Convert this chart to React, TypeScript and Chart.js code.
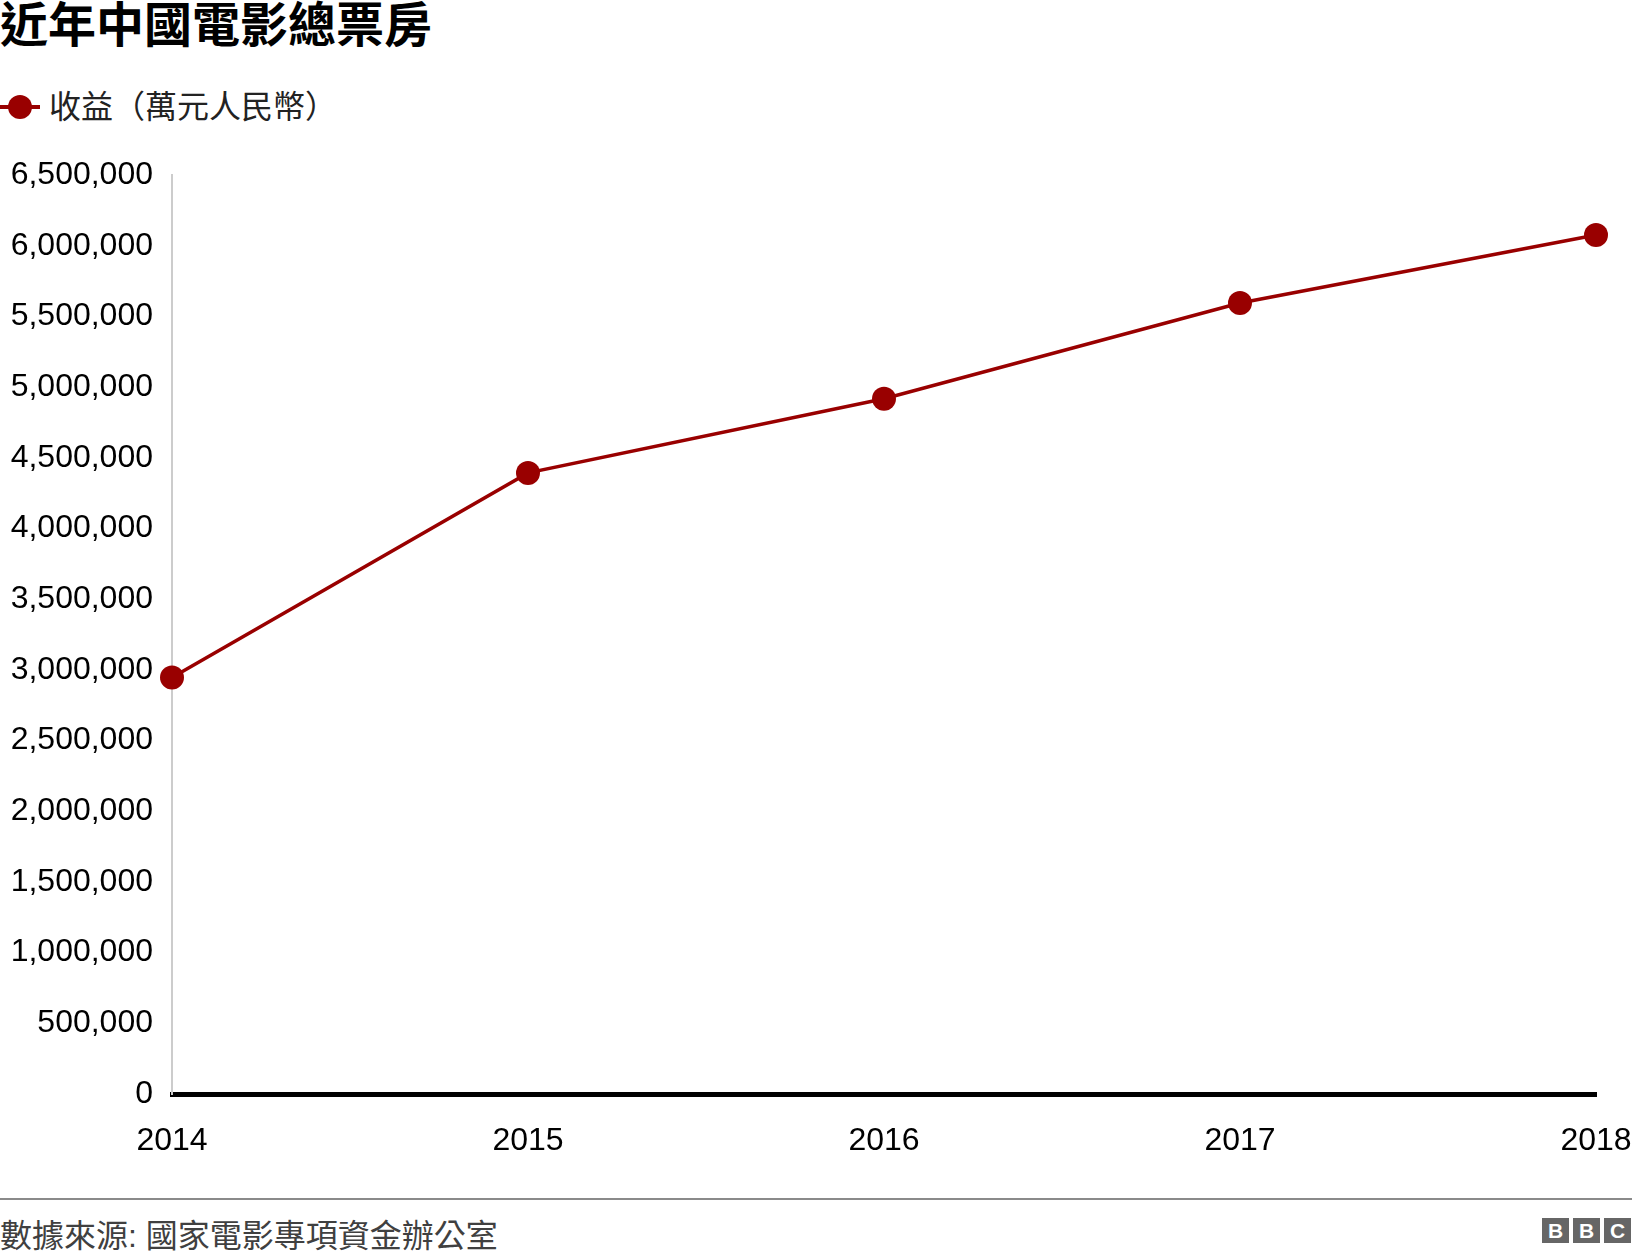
import { useEffect, useRef } from 'react';
import Chart from 'chart.js/auto';

// 近年中國電影總票房 (萬元人民幣)
const years = ['2014', '2015', '2016', '2017', '2018'];
const revenue = [2946000, 4393000, 4917000, 5595000, 6075000];
const seriesLabel = '收益（萬元人民幣）';

const yMax = 6500000;
const yStep = 500000;

const lineColor = '#990000';
const fontFamily = '"Liberation Sans", Arial, "Noto Sans CJK TC", sans-serif';

function RevenueChart() {
  const chartRef = useRef<HTMLCanvasElement>(null);
  const chartInstance = useRef<Chart | null>(null);

  useEffect(() => {
    if (!chartRef.current) return;

    if (chartInstance.current) {
      chartInstance.current.destroy();
    }

    const ctx = chartRef.current.getContext('2d');
    if (!ctx) return;

    chartInstance.current = new Chart(ctx, {
      type: 'line',
      data: {
        labels: years,
        datasets: [{
          label: seriesLabel,
          data: revenue,
          borderColor: lineColor,
          backgroundColor: lineColor,
          borderWidth: 3.5,
          pointRadius: 12,
          pointHoverRadius: 12,
          pointBackgroundColor: lineColor,
          pointBorderWidth: 0,
          tension: 0,
          clip: false
        }]
      },
      options: {
        responsive: false,
        maintainAspectRatio: false,
        animation: false,
        layout: {
          padding: { top: 25, right: 36, bottom: 0, left: 0 }
        },
        plugins: {
          legend: { display: false },
          tooltip: { enabled: false },
          title: { display: false }
        },
        scales: {
          x: {
            type: 'category',
            offset: false,
            grid: { display: false, drawTicks: false },
            border: { display: true, color: '#000000', width: 5 },
            ticks: {
              color: '#000000',
              padding: 28,
              maxRotation: 0,
              autoSkip: false,
              font: { family: fontFamily, size: 32 }
            },
            afterFit: (scale: any) => {
              scale.height = 80;
              scale.paddingLeft = 0;
              scale.paddingRight = 0;
            }
          },
          y: {
            min: 0,
            max: yMax,
            grid: { display: false, drawTicks: false },
            border: { display: true, color: '#cccccc', width: 2 },
            ticks: {
              stepSize: yStep,
              color: '#000000',
              padding: 19,
              font: { family: fontFamily, size: 32 },
              callback: (v: any) => Number(v).toLocaleString('en-US')
            },
            afterFit: (scale: any) => {
              scale.width = 172;
              scale.paddingTop = 0;
              scale.paddingBottom = 0;
            }
          }
        }
      }
    });

    return () => {
      if (chartInstance.current) {
        chartInstance.current.destroy();
        chartInstance.current = null;
      }
    };
  }, []);

  return (
    <canvas
      ref={chartRef}
      width={1632}
      height={1024}
      style={{ position: 'absolute', left: 0, top: 150, width: 1632, height: 1024 }}
    />
  );
}

export default function App() {
  useEffect(() => {
    document.body.style.margin = '0';
  }, []);

  return (
    <div style={{ position: 'relative', width: 1632, height: 1256, background: '#ffffff', fontFamily, overflow: 'hidden' }}>
      <div style={{ position: 'absolute', left: 0, top: 2, fontSize: 48, lineHeight: '48px', fontWeight: 'bold', color: '#000', whiteSpace: 'nowrap' }}>
        近年中國電影總票房
      </div>

      {/* legend */}
      <div style={{ position: 'absolute', left: 0, top: 105, width: 40, height: 4, background: lineColor }} />
      <div style={{ position: 'absolute', left: 8, top: 95, width: 24, height: 24, borderRadius: 12, background: lineColor }} />
      <div style={{ position: 'absolute', left: 49, top: 89, fontSize: 32, lineHeight: '36px', color: '#222', whiteSpace: 'nowrap' }}>
        {seriesLabel}
      </div>

      <RevenueChart />

      {/* footer */}
      <div style={{ position: 'absolute', left: 0, top: 1198, width: 1632, height: 2, background: '#8a8a8a' }} />
      <div style={{ position: 'absolute', left: 0, top: 1218, fontSize: 32, lineHeight: '36px', color: '#404040', whiteSpace: 'nowrap' }}>
        數據來源: 國家電影專項資金辦公室
      </div>
      <div style={{ position: 'absolute', left: 1542, top: 1218, display: 'flex', gap: 4 }}>
        {['B', 'B', 'C'].map((ch, i) => (
          <div key={i} style={{ width: 27, height: 25, background: '#666666', color: '#fff', fontWeight: 'bold', fontSize: 21, lineHeight: '25px', textAlign: 'center', fontFamily: '"Liberation Sans", Arial, sans-serif' }}>
            {ch}
          </div>
        ))}
      </div>
    </div>
  );
}
